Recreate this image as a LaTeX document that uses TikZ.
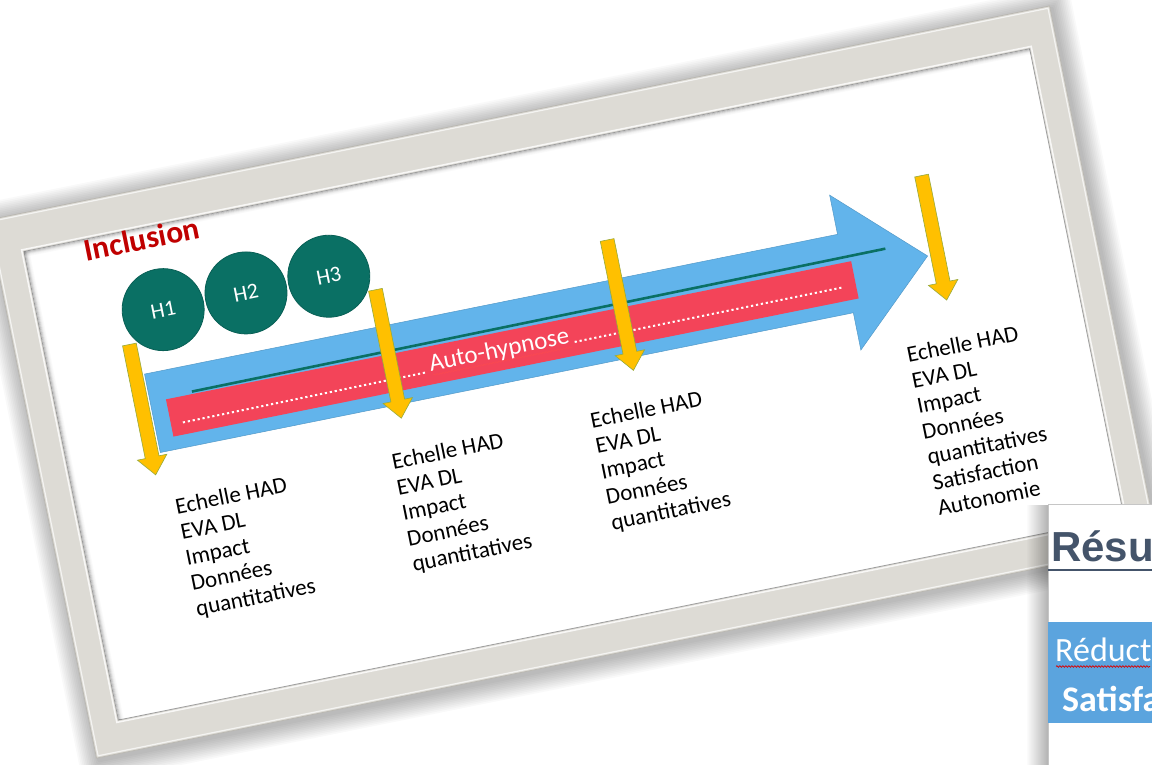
\documentclass[tikz,border=0pt]{standalone}
\usepackage{fontspec}
\setmainfont{Carlito}
\newfontfamily\headfont{Liberation Sans}
\usetikzlibrary{fadings,decorations.pathmorphing}

\definecolor{framegray}{RGB}{221,219,213}
\definecolor{frameedge}{RGB}{186,184,178}
\definecolor{arrowblue}{RGB}{98,180,235}
\definecolor{barred}{RGB}{243,68,89}
\definecolor{tealc}{RGB}{10,112,100}
\definecolor{gold}{RGB}{255,192,0}
\definecolor{goldedge}{RGB}{150,170,60}
\definecolor{incred}{RGB}{192,0,0}
\definecolor{slate}{RGB}{68,84,106}
\definecolor{panelblue}{RGB}{91,164,222}

\tikzset{
  stepcircle/.style={circle, fill=tealc, draw=tealc!85!black, line width=0.8pt,
    minimum size=82pt, inner sep=0pt, text=white, font=\fontsize{22}{22}\selectfont},
  % multi-line blocks: the base anchor sits on the last line
  measures/.style={anchor=base west, align=left, inner sep=0pt,
    font=\fontsize{23}{26}\selectfont},
  goldarrowstyle/.style={fill=gold, draw=goldedge, line width=0.6pt},
  dotline/.style={white, line width=2pt, dash pattern=on 2.2pt off 2.8pt},
  plainlabel/.style={anchor=base west, inner sep=0pt},
}

% vertical block arrow: centre u, top v, tip v (local frame, v measured downwards)
\newcommand\goldarrow[3]{%
  \filldraw[goldarrowstyle] (#1-7,-#2) -- (#1+7,-#2) -- (#1+7,-#3+18) -- (#1+15,-#3+18)
    -- (#1,-#3) -- (#1-15,-#3+18) -- (#1-7,-#3+18) -- cycle;}

\begin{document}
\begin{tikzpicture}[x=1pt,y=1pt]
\useasboundingbox (0,0) rectangle (1152,765);
\fill[white] (0,0) rectangle (1152,765);

\begin{scope}[shift={(-12,545)}, rotate=11.4, transform shape]
  % soft shadow around the frame
  \foreach \k in {1,...,12}
    \fill[black, opacity=0.022, rounded corners=2pt]
      (-1.7*\k+2, 1.7*\k-3) rectangle (1083+1.7*\k+2, -549-1.7*\k-3);

  % frame
  \filldraw[fill=framegray, draw=frameedge, line width=0.8pt] (0,0) rectangle (1083,-549);
  \draw[white, opacity=0.7, line width=1.2pt] (2,-2) rectangle (1081,-547);
  \draw[white, opacity=0.8, line width=1.5pt] (27,-36) rectangle (1057,-518);
  \filldraw[fill=white, draw=gray!75, line width=0.8pt] (29,-38) rectangle (1055,-516);
  % inner shadow along the top and left edges
  \foreach \i/\o in {1/0.22,2/0.14,3/0.08,4/0.04,5/0.02} {
    \draw[black, opacity=\o, line width=1pt] (29,-38-\i) -- (1055,-38-\i);
    \draw[black, opacity=\o, line width=1pt] (29+\i,-38) -- (29+\i,-516);
  }

  % timeline arrow
  \filldraw[fill=arrowblue, draw=arrowblue!85!black, line width=0.5pt]
    (123,-182) -- (830,-182) -- (830,-142) -- (914,-221) -- (830,-300)
    -- (830,-262) -- (123,-262) -- cycle;
  \fill[barred] (139,-211) rectangle (838,-249);
  \draw[tealc, line width=2.6pt] (166,-208.5) -- (874,-205.5);

  % session label with dotted leaders
  \node[plainlabel, text=white, font=\fontsize{25}{25}\selectfont] (auto) at (404,-236) {Auto-hypnose};
  \draw[dotline] (151,-237) -- (400,-236);
  \draw[dotline] (551,-235.5) -- (825,-235);
  \draw[red!70, opacity=0.6, line width=0.6pt, decorate,
        decoration={snake, amplitude=0.7pt, segment length=3pt}] (406,-240) -- (548,-240);

  % inclusion and hypnosis sessions
  \node[plainlabel, text=incred, font=\bfseries\fontsize{31.5}{31.5}\selectfont] (incl) at (88,-60) {Inclusion};
  \node[stepcircle] (h1) at (154,-122.5) {H1};
  \node[stepcircle] (h2) at (238.5,-122.5) {H2};
  \node[stepcircle] (h3) at (323,-122.5) {H3};

  % assessment points
  \goldarrow{114}{150}{283}
  \goldarrow{366}{145}{276}
  \goldarrow{603}{142}{275}
  \goldarrow{924}{141}{268}

  \node[measures] (m1) at (127,-430) {Echelle HAD\\EVA DL\\Impact\\Données\\quantitatives};
  \node[measures] (m2) at (348,-429) {Echelle HAD\\EVA DL\\Impact\\Données\\quantitatives};
  \node[measures] (m3) at (551,-427.5) {Echelle HAD\\EVA DL\\Impact\\Données\\quantitatives};
  \node[measures] (m4) at (874,-478) {Echelle HAD\\EVA DL\\Impact\\Données\\quantitatives\\Satisfaction\\Autonomie};
\end{scope}

% results slide lying on top
\fill[black, opacity=0.3, path fading=west] (1026,0) rectangle (1048,260);
\fill[white] (1048,0) rectangle (1152,260);
\draw[gray!45, line width=1pt] (1048,0) -- (1048,260) -- (1152,260);
\begin{scope}
  \clip (1048,0) rectangle (1152,260);
  \node[plainlabel, text=slate, font=\headfont\bfseries\fontsize{42}{42}\selectfont] (res) at (1051,203) {Résu};
  \draw[slate, line width=1.6pt] (1048,195) -- (1152,195);
  \fill[panelblue] (1048,42) rectangle (1152,143);
  \node[plainlabel, text=white, font=\fontsize{34}{34}\selectfont] (redu) at (1055,103) {Réduct};
  \draw[red!85!black, line width=0.7pt, decorate,
        decoration={snake, amplitude=0.8pt, segment length=3pt}] (1056,98.5) -- (1150,98.5);
  \node[plainlabel, text=white, font=\bfseries\fontsize{36}{36}\selectfont] (sat) at (1062,53) {Satisfa};
\end{scope}
\end{tikzpicture}
\end{document}
